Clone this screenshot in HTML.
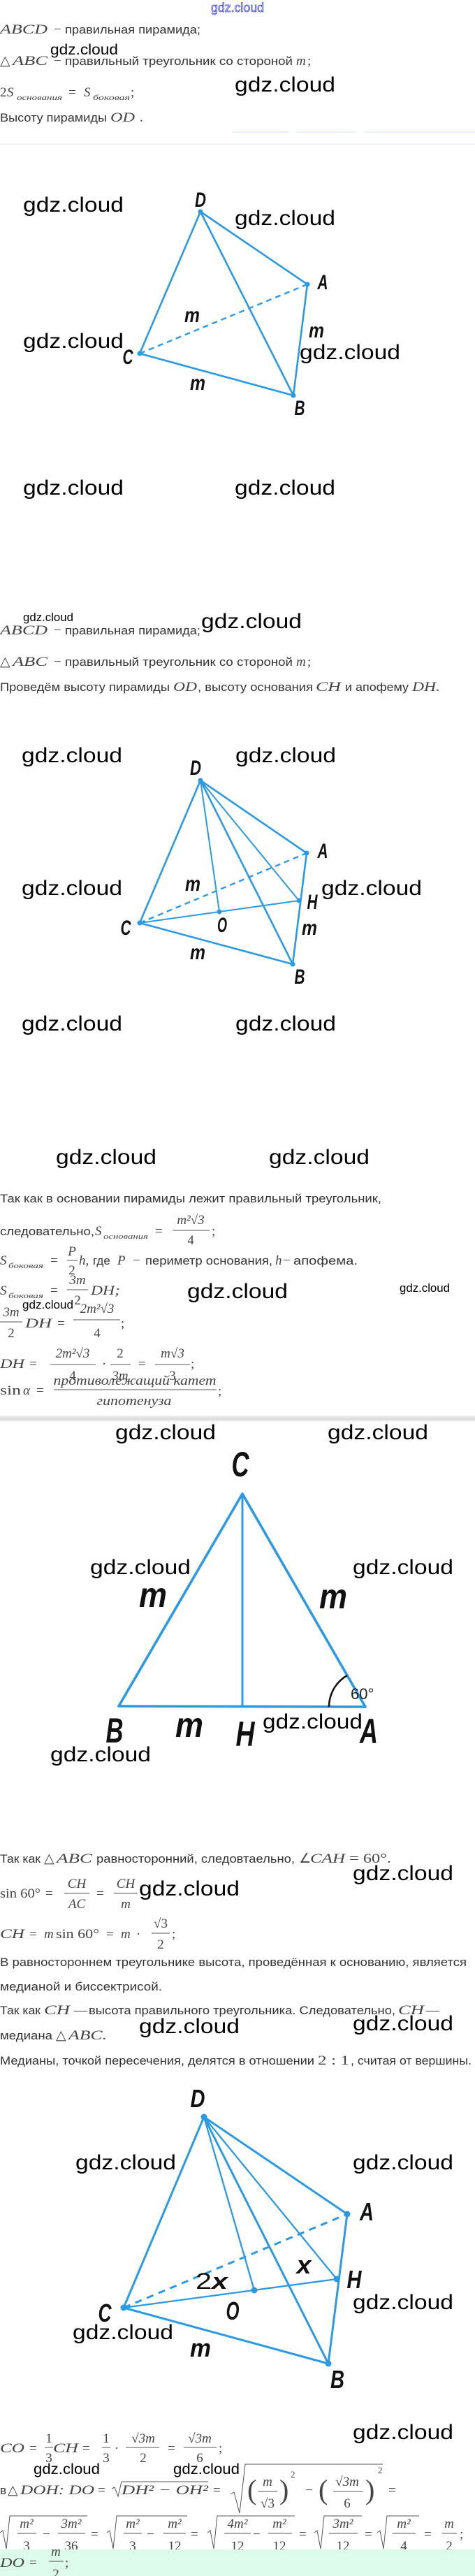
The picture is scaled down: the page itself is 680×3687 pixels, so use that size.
<!DOCTYPE html>
<html><head><meta charset="utf-8"><style>
html,body{margin:0;padding:0;background:#fff;}
svg{display:block}
.t{font:17px "Liberation Sans",sans-serif;fill:#333}
.m{font:italic 19px "Liberation Serif",serif;fill:#444}
.n{font:19px "Liberation Serif",serif;fill:#444}
.s{font:italic 11px "Liberation Serif",serif;fill:#444}
.w{font:30px "Liberation Sans",sans-serif;fill:#000}
.w2{font:21px "Liberation Sans",sans-serif;fill:#000}
.w3{font:17px "Liberation Sans",sans-serif;fill:#000}
.lb{font:italic bold 30px "Liberation Sans",sans-serif;fill:#111}
.lb2{font:italic bold 50px "Liberation Sans",sans-serif;fill:#111}
.lb3{font:italic bold 36px "Liberation Sans",sans-serif;fill:#111}
.e{stroke:#2b9ae3;stroke-width:2.6;fill:none;stroke-linecap:round}
.e2{stroke:#2b9ae3;stroke-width:2;fill:none}
.d{stroke:#2b9ae3;stroke-width:2.4;stroke-dasharray:8 6;fill:none}
.dot{fill:#2b9ae3}
.fb{stroke:#555;stroke-width:1}
.sq{stroke:#555;stroke-width:1;fill:none}
</style></head><body>
<svg width="680" height="3687" viewBox="0 0 680 3687" xmlns="http://www.w3.org/2000/svg">
<rect width="680" height="3687" fill="#fff"/>

<!-- ===== Section 1 ===== -->
<text x="302" y="17" font-family="Liberation Sans, sans-serif" font-size="18" fill="#fff" stroke="#3b45d0" stroke-width="0.8" textLength="76" lengthAdjust="spacingAndGlyphs">gdz.cloud</text>

<text class="m" x="0" y="48" textLength="68" lengthAdjust="spacingAndGlyphs">ABCD</text>
<text class="n" x="77" y="48">−</text>
<text class="t" x="93" y="48" textLength="194" lengthAdjust="spacingAndGlyphs">правильная пирамида;</text>
<text class="w2" x="72" y="78" textLength="97" lengthAdjust="spacingAndGlyphs">gdz.cloud</text>

<text class="n" x="0" y="93">△</text><text class="m" x="18" y="93" textLength="50" lengthAdjust="spacingAndGlyphs">ABC</text>
<text class="n" x="77" y="93">−</text>
<text class="t" x="93" y="93" textLength="326" lengthAdjust="spacingAndGlyphs">правильный треугольник со стороной</text>
<text class="m" x="424" y="93">m</text><text class="n" x="440" y="93">;</text>

<text class="n" x="0" y="138">2</text><text class="m" x="10" y="138">S</text>
<text class="s" x="24" y="143" textLength="65" lengthAdjust="spacingAndGlyphs">основания</text>
<text class="n" x="98" y="138">=</text>
<text class="m" x="120" y="138">S</text>
<text class="s" x="133" y="143" textLength="53" lengthAdjust="spacingAndGlyphs">боковая</text>
<text class="n" x="187" y="138">;</text>
<text class="w" x="336" y="131" textLength="144" lengthAdjust="spacingAndGlyphs">gdz.cloud</text>

<text class="t" x="0" y="174" textLength="153" lengthAdjust="spacingAndGlyphs">Высоту пирамиды</text>
<text class="m" x="158" y="174" textLength="35" lengthAdjust="spacingAndGlyphs">OD</text>
<text class="n" x="200" y="174">.</text>

<rect x="332" y="188" width="83" height="2" fill="#e6f2fb"/>
<rect x="425" y="188" width="85" height="2" fill="#e6f2fb"/>
<rect x="522" y="188" width="158" height="2" fill="#e6f2fb"/>
<rect x="0" y="206" width="680" height="1.5" fill="#f0f0f0"/>

<!-- Pyramid 1 -->
<line class="e" x1="287" y1="303" x2="200" y2="506"/>
<line class="e" x1="287" y1="303" x2="440" y2="407"/>
<line class="e" x1="287" y1="303" x2="420" y2="566"/>
<line class="e" x1="200" y1="506" x2="420" y2="566"/>
<line class="e" x1="440" y1="407" x2="420" y2="566"/>
<line class="d" x1="200" y1="506" x2="440" y2="407"/>
<circle class="dot" cx="287" cy="303" r="3.5"/><circle class="dot" cx="440" cy="407" r="3.5"/>
<circle class="dot" cx="200" cy="506" r="3.5"/><circle class="dot" cx="420" cy="566" r="3.5"/>
<text class="lb" x="287" y="296" text-anchor="middle" textLength="16" lengthAdjust="spacingAndGlyphs">D</text>
<text class="lb" x="462" y="414" text-anchor="middle" textLength="15" lengthAdjust="spacingAndGlyphs">A</text>
<text class="lb" x="183" y="521" text-anchor="middle" textLength="15" lengthAdjust="spacingAndGlyphs">C</text>
<text class="lb" x="429" y="594" text-anchor="middle" textLength="15" lengthAdjust="spacingAndGlyphs">B</text>
<text class="lb" x="275" y="461" text-anchor="middle" textLength="22" lengthAdjust="spacingAndGlyphs">m</text>
<text class="lb" x="453" y="483" text-anchor="middle" textLength="22" lengthAdjust="spacingAndGlyphs">m</text>
<text class="lb" x="283" y="558" text-anchor="middle" textLength="22" lengthAdjust="spacingAndGlyphs">m</text>
<text class="w" x="33" y="303" textLength="144" lengthAdjust="spacingAndGlyphs">gdz.cloud</text>
<text class="w" x="336" y="322" textLength="144" lengthAdjust="spacingAndGlyphs">gdz.cloud</text>
<text class="w" x="33" y="498" textLength="144" lengthAdjust="spacingAndGlyphs">gdz.cloud</text>
<text class="w" x="429" y="514" textLength="144" lengthAdjust="spacingAndGlyphs">gdz.cloud</text>
<text class="w" x="33" y="708" textLength="144" lengthAdjust="spacingAndGlyphs">gdz.cloud</text>
<text class="w" x="336" y="708" textLength="144" lengthAdjust="spacingAndGlyphs">gdz.cloud</text>

<!-- ===== Section 2 ===== -->
<text class="w3" x="33" y="889" textLength="72" lengthAdjust="spacingAndGlyphs">gdz.cloud</text>
<text class="m" x="0" y="908" textLength="68" lengthAdjust="spacingAndGlyphs">ABCD</text>
<text class="n" x="77" y="908">−</text>
<text class="t" x="93" y="908" textLength="194" lengthAdjust="spacingAndGlyphs">правильная пирамида;</text>
<text class="w" x="288" y="899" textLength="144" lengthAdjust="spacingAndGlyphs">gdz.cloud</text>

<text class="n" x="0" y="953">△</text><text class="m" x="18" y="953" textLength="50" lengthAdjust="spacingAndGlyphs">ABC</text>
<text class="n" x="77" y="953">−</text>
<text class="t" x="93" y="953" textLength="326" lengthAdjust="spacingAndGlyphs">правильный треугольник со стороной</text>
<text class="m" x="424" y="953">m</text><text class="n" x="440" y="953">;</text>

<text class="t" x="0" y="989" textLength="243" lengthAdjust="spacingAndGlyphs">Проведём высоту пирамиды</text>
<text class="m" x="248" y="989" textLength="34" lengthAdjust="spacingAndGlyphs">OD</text>
<text class="t" x="283" y="989" textLength="165" lengthAdjust="spacingAndGlyphs">, высоту основания</text>
<text class="m" x="452" y="989" textLength="36" lengthAdjust="spacingAndGlyphs">CH</text>
<text class="t" x="494" y="989" textLength="91" lengthAdjust="spacingAndGlyphs">и апофему</text>
<text class="m" x="590" y="989" textLength="40" lengthAdjust="spacingAndGlyphs">DH.</text>

<!-- Pyramid 2 -->
<line class="e" x1="287" y1="1117" x2="200" y2="1321"/>
<line class="e" x1="287" y1="1117" x2="439" y2="1221"/>
<line class="e" x1="287" y1="1117" x2="419" y2="1380"/>
<line class="e2" x1="287" y1="1117" x2="314" y2="1305"/>
<line class="e2" x1="287" y1="1117" x2="428" y2="1289"/>
<line class="e" x1="200" y1="1321" x2="419" y2="1380"/>
<line class="e" x1="439" y1="1221" x2="419" y2="1380"/>
<line class="e2" x1="200" y1="1321" x2="428" y2="1289"/>
<line class="d" x1="200" y1="1321" x2="439" y2="1221"/>
<circle class="dot" cx="287" cy="1117" r="3.5"/><circle class="dot" cx="439" cy="1221" r="3.5"/>
<circle class="dot" cx="428" cy="1289" r="3.5"/><circle class="dot" cx="314" cy="1305" r="3.5"/>
<circle class="dot" cx="200" cy="1321" r="3.5"/><circle class="dot" cx="419" cy="1380" r="3.5"/>
<text class="lb" x="280" y="1109" text-anchor="middle" textLength="16" lengthAdjust="spacingAndGlyphs">D</text>
<text class="lb" x="462" y="1228" text-anchor="middle" textLength="15" lengthAdjust="spacingAndGlyphs">A</text>
<text class="lb" x="447" y="1301" text-anchor="middle" textLength="15" lengthAdjust="spacingAndGlyphs">H</text>
<text class="lb" x="318" y="1334" text-anchor="middle" textLength="14" lengthAdjust="spacingAndGlyphs">O</text>
<text class="lb" x="180" y="1338" text-anchor="middle" textLength="15" lengthAdjust="spacingAndGlyphs">C</text>
<text class="lb" x="429" y="1408" text-anchor="middle" textLength="15" lengthAdjust="spacingAndGlyphs">B</text>
<text class="lb" x="276" y="1275" text-anchor="middle" textLength="22" lengthAdjust="spacingAndGlyphs">m</text>
<text class="lb" x="443" y="1338" text-anchor="middle" textLength="22" lengthAdjust="spacingAndGlyphs">m</text>
<text class="lb" x="283" y="1373" text-anchor="middle" textLength="22" lengthAdjust="spacingAndGlyphs">m</text>
<text class="w" x="31" y="1091" textLength="144" lengthAdjust="spacingAndGlyphs">gdz.cloud</text>
<text class="w" x="337" y="1091" textLength="144" lengthAdjust="spacingAndGlyphs">gdz.cloud</text>
<text class="w" x="31" y="1281" textLength="144" lengthAdjust="spacingAndGlyphs">gdz.cloud</text>
<text class="w" x="460" y="1281" textLength="144" lengthAdjust="spacingAndGlyphs">gdz.cloud</text>
<text class="w" x="31" y="1475" textLength="144" lengthAdjust="spacingAndGlyphs">gdz.cloud</text>
<text class="w" x="337" y="1475" textLength="144" lengthAdjust="spacingAndGlyphs">gdz.cloud</text>
<text class="w" x="80" y="1666" textLength="144" lengthAdjust="spacingAndGlyphs">gdz.cloud</text>
<text class="w" x="385" y="1666" textLength="144" lengthAdjust="spacingAndGlyphs">gdz.cloud</text>

<!-- ===== Section 3 ===== -->
<text class="t" x="0" y="1721" textLength="546" lengthAdjust="spacingAndGlyphs">Так как в основании пирамиды лежит правильный треугольник,</text>

<text class="t" x="0" y="1768" textLength="135" lengthAdjust="spacingAndGlyphs">следовательно,</text>
<text class="m" x="136" y="1768">S</text>
<text class="s" x="148" y="1773" textLength="64" lengthAdjust="spacingAndGlyphs">основания</text>
<text class="n" x="222" y="1768">=</text>
<text class="m" x="273" y="1752" text-anchor="middle">m²√3</text>
<line class="fb" x1="247" y1="1761" x2="300" y2="1761"/>
<text class="n" x="273" y="1781" text-anchor="middle">4</text>
<text class="n" x="303" y="1768">;</text>

<text class="m" x="0" y="1810">S</text>
<text class="s" x="12" y="1815" textLength="50" lengthAdjust="spacingAndGlyphs">боковая</text>
<text class="n" x="72" y="1810">=</text>
<text class="m" x="103" y="1797" text-anchor="middle">P</text>
<line class="fb" x1="96" y1="1804" x2="111" y2="1804"/>
<text class="n" x="103" y="1824" text-anchor="middle">2</text>
<text class="m" x="113" y="1810">h,</text>
<text class="t" x="133" y="1810">где</text>
<text class="m" x="168" y="1810">P</text>
<text class="n" x="190" y="1810">−</text>
<text class="t" x="208" y="1810" textLength="182" lengthAdjust="spacingAndGlyphs">периметр основания,</text>
<text class="m" x="394" y="1810">h</text>
<text class="n" x="405" y="1810">−</text>
<text class="t" x="420" y="1810" textLength="92" lengthAdjust="spacingAndGlyphs">апофема.</text>

<text class="m" x="0" y="1853">S</text>
<text class="s" x="12" y="1858" textLength="50" lengthAdjust="spacingAndGlyphs">боковая</text>
<text class="n" x="72" y="1853">=</text>
<text class="m" x="111" y="1838" text-anchor="middle">3m</text>
<line class="fb" x1="96" y1="1846" x2="126" y2="1846"/>
<text class="n" x="111" y="1867" text-anchor="middle">2</text>
<text class="m" x="130" y="1853" textLength="42" lengthAdjust="spacingAndGlyphs">DH;</text>
<text class="w" x="268" y="1858" textLength="144" lengthAdjust="spacingAndGlyphs">gdz.cloud</text>
<text class="w3" x="572" y="1849" textLength="72" lengthAdjust="spacingAndGlyphs">gdz.cloud</text>

<text class="m" x="16" y="1884" text-anchor="middle">3m</text>
<line class="fb" x1="0" y1="1892" x2="32" y2="1892"/>
<text class="n" x="16" y="1914" text-anchor="middle">2</text>
<text class="w3" x="32" y="1873" textLength="73" lengthAdjust="spacingAndGlyphs">gdz.cloud</text>
<text class="m" x="36" y="1900" textLength="38" lengthAdjust="spacingAndGlyphs">DH</text>
<text class="n" x="82" y="1900">=</text>
<text class="m" x="139" y="1879" text-anchor="middle">2m²√3</text>
<line class="fb" x1="105" y1="1889" x2="172" y2="1889"/>
<text class="n" x="139" y="1914" text-anchor="middle">4</text>
<text class="n" x="173" y="1900">;</text>

<text class="m" x="0" y="1958" textLength="35" lengthAdjust="spacingAndGlyphs">DH</text>
<text class="n" x="42" y="1958">=</text>
<text class="m" x="104" y="1943" text-anchor="middle">2m²√3</text>
<line class="fb" x1="72" y1="1953" x2="137" y2="1953"/>
<text class="n" x="104" y="1975" text-anchor="middle">4</text>
<text class="n" x="146" y="1958">·</text>
<text class="n" x="172" y="1943" text-anchor="middle">2</text>
<line class="fb" x1="158" y1="1953" x2="187" y2="1953"/>
<text class="m" x="172" y="1975" text-anchor="middle">3m</text>
<text class="n" x="198" y="1958">=</text>
<text class="m" x="247" y="1943" text-anchor="middle">m√3</text>
<line class="fb" x1="222" y1="1953" x2="272" y2="1953"/>
<text class="n" x="247" y="1975" text-anchor="middle">3</text>
<text class="n" x="273" y="1958">;</text>

<text class="n" x="0" y="1996" textLength="30" lengthAdjust="spacingAndGlyphs">sin</text>
<text class="m" x="33" y="1996">α</text>
<text class="n" x="52" y="1996">=</text>
<text class="m" x="193" y="1982" text-anchor="middle" textLength="233" lengthAdjust="spacingAndGlyphs">противолежащий катет</text>
<line class="fb" x1="77" y1="1989" x2="310" y2="1989"/>
<text class="m" x="192" y="2011" text-anchor="middle" textLength="107" lengthAdjust="spacingAndGlyphs">гипотенуза</text>
<text class="n" x="312" y="1997">;</text>

<defs><linearGradient id="sh" x1="0" y1="0" x2="0" y2="1"><stop offset="0" stop-color="#f4f4f4"/><stop offset="0.5" stop-color="#d9d9d9"/><stop offset="1" stop-color="#ffffff"/></linearGradient></defs>
<rect x="0" y="2026" width="680" height="10" fill="url(#sh)"/>

<!-- Triangle -->
<text class="w" x="165" y="2060" textLength="144" lengthAdjust="spacingAndGlyphs">gdz.cloud</text>
<text class="w" x="469" y="2060" textLength="144" lengthAdjust="spacingAndGlyphs">gdz.cloud</text>
<line stroke="#2b9ae3" stroke-width="3.6" stroke-linecap="round" x1="347" y1="2138" x2="170" y2="2442"/>
<line stroke="#2b9ae3" stroke-width="3.6" stroke-linecap="round" x1="347" y1="2138" x2="523" y2="2443"/>
<line stroke="#2b9ae3" stroke-width="3.6" stroke-linecap="round" x1="170" y1="2442" x2="523" y2="2443"/>
<line stroke="#2b9ae3" stroke-width="3" x1="347" y1="2138" x2="347" y2="2443"/>
<path d="M471,2443 A52,52 0 0 1 497,2398" stroke="#111" stroke-width="2.5" fill="none"/>
<text x="502" y="2432" font-family="Liberation Sans, sans-serif" font-size="22" fill="#222">60°</text>
<text class="lb2" x="344" y="2113" text-anchor="middle" textLength="25" lengthAdjust="spacingAndGlyphs">C</text>
<text class="lb2" x="164" y="2494" text-anchor="middle" textLength="25" lengthAdjust="spacingAndGlyphs">B</text>
<text class="lb2" x="351" y="2499" text-anchor="middle" textLength="27" lengthAdjust="spacingAndGlyphs">H</text>
<text class="lb2" x="528" y="2495" text-anchor="middle" textLength="26" lengthAdjust="spacingAndGlyphs">A</text>
<text class="lb2" x="219" y="2300" text-anchor="middle" textLength="40" lengthAdjust="spacingAndGlyphs">m</text>
<text class="lb2" x="477" y="2302" text-anchor="middle" textLength="40" lengthAdjust="spacingAndGlyphs">m</text>
<text class="lb2" x="271" y="2486" text-anchor="middle" textLength="40" lengthAdjust="spacingAndGlyphs">m</text>
<text class="w" x="129" y="2253" textLength="144" lengthAdjust="spacingAndGlyphs">gdz.cloud</text>
<text class="w" x="505" y="2253" textLength="144" lengthAdjust="spacingAndGlyphs">gdz.cloud</text>
<text class="w" x="376" y="2474" textLength="143" lengthAdjust="spacingAndGlyphs">gdz.cloud</text>
<text class="w" x="72" y="2521" textLength="144" lengthAdjust="spacingAndGlyphs">gdz.cloud</text>

<!-- ===== Section 5 ===== -->
<text class="t" x="0" y="2666" textLength="58" lengthAdjust="spacingAndGlyphs">Так как</text>
<text class="n" x="63" y="2666">△</text><text class="m" x="81" y="2666" textLength="51" lengthAdjust="spacingAndGlyphs">ABC</text>
<text class="t" x="138" y="2666" textLength="284" lengthAdjust="spacingAndGlyphs">равносторонний, следовтаельно,</text>
<text class="n" x="428" y="2666">∠</text><text class="m" x="444" y="2666" textLength="50" lengthAdjust="spacingAndGlyphs">CAH</text>
<text class="n" x="500" y="2666" textLength="60" lengthAdjust="spacingAndGlyphs">= 60°.</text>

<text class="n" x="0" y="2716" textLength="58" lengthAdjust="spacingAndGlyphs">sin 60°</text>
<text class="n" x="65" y="2716">=</text>
<text class="m" x="110" y="2702" text-anchor="middle">CH</text>
<line class="fb" x1="92" y1="2710" x2="128" y2="2710"/>
<text class="m" x="110" y="2731" text-anchor="middle">AC</text>
<text class="n" x="138" y="2716">=</text>
<text class="m" x="180" y="2702" text-anchor="middle">CH</text>
<line class="fb" x1="163" y1="2710" x2="197" y2="2710"/>
<text class="m" x="180" y="2731" text-anchor="middle">m</text>
<text class="w" x="199" y="2713" textLength="144" lengthAdjust="spacingAndGlyphs">gdz.cloud</text>
<text class="w" x="505" y="2691" textLength="144" lengthAdjust="spacingAndGlyphs">gdz.cloud</text>

<text class="m" x="0" y="2774" textLength="35" lengthAdjust="spacingAndGlyphs">CH</text>
<text class="n" x="42" y="2774">=</text>
<text class="m" x="63" y="2774">m</text><text class="n" x="80" y="2774" textLength="62" lengthAdjust="spacingAndGlyphs">sin 60°</text>
<text class="n" x="152" y="2774">=</text>
<text class="m" x="173" y="2774">m</text>
<text class="n" x="195" y="2774">·</text>
<text class="n" x="230" y="2759" text-anchor="middle">√3</text>
<line class="fb" x1="217" y1="2767" x2="243" y2="2767"/>
<text class="n" x="230" y="2789" text-anchor="middle">2</text>
<text class="n" x="246" y="2774">;</text>

<text class="t" x="0" y="2814" textLength="668" lengthAdjust="spacingAndGlyphs">В равностороннем треугольнике высота, проведённая к основанию, является</text>
<text class="t" x="0" y="2849" textLength="232" lengthAdjust="spacingAndGlyphs">медианой и биссектрисой.</text>
<text class="t" x="0" y="2883" textLength="58" lengthAdjust="spacingAndGlyphs">Так как</text>
<text class="m" x="63" y="2883" textLength="37" lengthAdjust="spacingAndGlyphs">CH</text>
<text class="n" x="106" y="2883">—</text>
<text class="t" x="127" y="2883" textLength="439" lengthAdjust="spacingAndGlyphs">высота правильного треугольника. Следовательно,</text>
<text class="m" x="570" y="2883" textLength="37" lengthAdjust="spacingAndGlyphs">CH</text>
<text class="n" x="610" y="2883">—</text>
<text class="t" x="0" y="2919" textLength="75" lengthAdjust="spacingAndGlyphs">медиана</text>
<text class="n" x="80" y="2919">△</text><text class="m" x="98" y="2919" textLength="55" lengthAdjust="spacingAndGlyphs">ABC.</text>
<text class="w" x="199" y="2910" textLength="144" lengthAdjust="spacingAndGlyphs">gdz.cloud</text>
<text class="w" x="505" y="2906" textLength="144" lengthAdjust="spacingAndGlyphs">gdz.cloud</text>
<text class="t" x="0" y="2955" textLength="450" lengthAdjust="spacingAndGlyphs">Медианы, точкой пересечения, делятся в отношении</text>
<text class="n" x="455" y="2955" textLength="45" lengthAdjust="spacingAndGlyphs">2 : 1</text>
<text class="t" x="502" y="2955" textLength="173" lengthAdjust="spacingAndGlyphs">, считая от вершины.</text>

<!-- Pyramid 3 -->
<line stroke="#2b9ae3" stroke-width="3" stroke-linecap="round" x1="292" y1="3030" x2="177" y2="3303"/>
<line stroke="#2b9ae3" stroke-width="3" stroke-linecap="round" x1="292" y1="3030" x2="497" y2="3169"/>
<line stroke="#2b9ae3" stroke-width="3" stroke-linecap="round" x1="292" y1="3030" x2="470" y2="3383"/>
<line stroke="#2b9ae3" stroke-width="2.3" x1="292" y1="3030" x2="364" y2="3278"/>
<line stroke="#2b9ae3" stroke-width="2.3" x1="292" y1="3030" x2="482" y2="3262"/>
<line stroke="#2b9ae3" stroke-width="3" stroke-linecap="round" x1="177" y1="3303" x2="470" y2="3383"/>
<line stroke="#2b9ae3" stroke-width="3" stroke-linecap="round" x1="497" y1="3169" x2="470" y2="3383"/>
<line stroke="#2b9ae3" stroke-width="2.3" x1="177" y1="3303" x2="482" y2="3262"/>
<line stroke="#2b9ae3" stroke-width="3" stroke-dasharray="10 8" x1="177" y1="3303" x2="497" y2="3169"/>
<circle class="dot" cx="292" cy="3030" r="4.5"/><circle class="dot" cx="497" cy="3169" r="4.5"/>
<circle class="dot" cx="482" cy="3262" r="4.5"/><circle class="dot" cx="364" cy="3278" r="4.5"/>
<circle class="dot" cx="177" cy="3303" r="4.5"/><circle class="dot" cx="470" cy="3383" r="4.5"/>
<text class="lb3" x="283" y="3016" text-anchor="middle" textLength="21" lengthAdjust="spacingAndGlyphs">D</text>
<text class="lb3" x="525" y="3178" text-anchor="middle" textLength="20" lengthAdjust="spacingAndGlyphs">A</text>
<text class="lb3" x="507" y="3275" text-anchor="middle" textLength="21" lengthAdjust="spacingAndGlyphs">H</text>
<text class="lb3" x="333" y="3320" text-anchor="middle" textLength="19" lengthAdjust="spacingAndGlyphs">O</text>
<text class="lb3" x="150" y="3323" text-anchor="middle" textLength="19" lengthAdjust="spacingAndGlyphs">C</text>
<text class="lb3" x="483" y="3418" text-anchor="middle" textLength="20" lengthAdjust="spacingAndGlyphs">B</text>
<text class="lb3" x="287" y="3373" text-anchor="middle" textLength="30" lengthAdjust="spacingAndGlyphs">m</text>
<text x="303" y="3276" text-anchor="middle" font-family="Liberation Sans, sans-serif" font-size="32" fill="#111" textLength="46" lengthAdjust="spacingAndGlyphs">2<tspan font-style="italic" font-weight="bold">x</tspan></text>
<text class="lb3" x="435" y="3254" text-anchor="middle" textLength="21" lengthAdjust="spacingAndGlyphs">x</text>
<text class="w" x="108" y="3105" textLength="144" lengthAdjust="spacingAndGlyphs">gdz.cloud</text>
<text class="w" x="505" y="3105" textLength="144" lengthAdjust="spacingAndGlyphs">gdz.cloud</text>
<text class="w" x="505" y="3305" textLength="144" lengthAdjust="spacingAndGlyphs">gdz.cloud</text>
<text class="w" x="104" y="3348" textLength="144" lengthAdjust="spacingAndGlyphs">gdz.cloud</text>
<text class="w" x="505" y="3491" textLength="144" lengthAdjust="spacingAndGlyphs">gdz.cloud</text>

<!-- ===== Bottom formulas ===== -->
<text class="m" x="0" y="3510" textLength="35" lengthAdjust="spacingAndGlyphs">CO</text>
<text class="n" x="42" y="3510">=</text>
<text class="n" x="70" y="3496" text-anchor="middle">1</text>
<line class="fb" x1="64" y1="3503" x2="76" y2="3503"/>
<text class="n" x="70" y="3524" text-anchor="middle">3</text>
<text class="m" x="76" y="3510" textLength="36" lengthAdjust="spacingAndGlyphs">CH</text>
<text class="n" x="118" y="3510">=</text>
<text class="n" x="152" y="3496" text-anchor="middle">1</text>
<line class="fb" x1="146" y1="3503" x2="158" y2="3503"/>
<text class="n" x="152" y="3524" text-anchor="middle">3</text>
<text class="n" x="164" y="3510">·</text>
<text class="m" x="205" y="3496" text-anchor="middle">√3m</text>
<line class="fb" x1="180" y1="3503" x2="228" y2="3503"/>
<text class="n" x="205" y="3524" text-anchor="middle">2</text>
<text class="n" x="240" y="3510">=</text>
<text class="m" x="286" y="3496" text-anchor="middle">√3m</text>
<line class="fb" x1="263" y1="3503" x2="310" y2="3503"/>
<text class="n" x="286" y="3524" text-anchor="middle">6</text>
<text class="n" x="313" y="3510">;</text>
<text class="w2" x="48" y="3541" textLength="95" lengthAdjust="spacingAndGlyphs">gdz.cloud</text>
<text class="w2" x="248" y="3541" textLength="95" lengthAdjust="spacingAndGlyphs">gdz.cloud</text>

<text class="t" x="0" y="3570">в</text>
<text class="n" x="11" y="3570">△</text>
<text class="m" x="29" y="3570" textLength="106" lengthAdjust="spacingAndGlyphs">DOH: DO</text>
<text class="n" x="140" y="3570">=</text>
<path class="sq" d="M160,3562 L164,3560 L169,3573 L174,3552 L298,3552"/>
<text class="m" x="174" y="3570" textLength="124" lengthAdjust="spacingAndGlyphs">DH² − OH²</text>
<text class="n" x="305" y="3570">=</text>
<path class="sq" d="M330,3570 L335,3567 L343,3597 L351,3527 L548,3527"/>
<text class="n" x="354" y="3577" font-size="40" style="font-size:40px">(</text>
<text class="m" x="383" y="3558" text-anchor="middle">m</text>
<line class="fb" x1="370" y1="3566" x2="397" y2="3566"/>
<text class="n" x="383" y="3589" text-anchor="middle">√3</text>
<text class="n" x="400" y="3577" style="font-size:40px">)</text>
<text class="n" x="416" y="3546" style="font-size:13px">2</text>
<text class="n" x="437" y="3570">−</text>
<text class="n" x="456" y="3577" style="font-size:40px">(</text>
<text class="m" x="497" y="3558" text-anchor="middle">√3m</text>
<line class="fb" x1="477" y1="3566" x2="520" y2="3566"/>
<text class="n" x="497" y="3589" text-anchor="middle">6</text>
<text class="n" x="523" y="3577" style="font-size:40px">)</text>
<text class="n" x="541" y="3540" style="font-size:13px">2</text>
<text class="n" x="556" y="3570">=</text>

<!-- sqrt chain -->
<path class="sq" d="M0,3625 L4,3622 L9,3648 L14,3601 L125,3601"/>
<text class="m" x="38" y="3618" text-anchor="middle">m²</text><line class="fb" x1="25" y1="3626" x2="52" y2="3626"/><text class="n" x="38" y="3650" text-anchor="middle">3</text>
<text class="n" x="61" y="3633">−</text>
<text class="m" x="102" y="3618" text-anchor="middle">3m²</text><line class="fb" x1="83" y1="3626" x2="122" y2="3626"/><text class="n" x="102" y="3650" text-anchor="middle">36</text>
<text class="n" x="130" y="3633">=</text>
<path class="sq" d="M153,3625 L157,3622 L162,3648 L167,3601 L268,3601"/>
<text class="m" x="190" y="3618" text-anchor="middle">m²</text><line class="fb" x1="177" y1="3626" x2="203" y2="3626"/><text class="n" x="190" y="3650" text-anchor="middle">3</text>
<text class="n" x="210" y="3633">−</text>
<text class="m" x="250" y="3618" text-anchor="middle">m²</text><line class="fb" x1="234" y1="3626" x2="266" y2="3626"/><text class="n" x="250" y="3650" text-anchor="middle">12</text>
<text class="n" x="273" y="3633">=</text>
<path class="sq" d="M297,3625 L301,3622 L306,3648 L311,3601 L422,3601"/>
<text class="m" x="340" y="3618" text-anchor="middle">4m²</text><line class="fb" x1="321" y1="3626" x2="359" y2="3626"/><text class="n" x="340" y="3650" text-anchor="middle">12</text>
<text class="n" x="362" y="3633">−</text>
<text class="m" x="400" y="3618" text-anchor="middle">m²</text><line class="fb" x1="384" y1="3626" x2="418" y2="3626"/><text class="n" x="400" y="3650" text-anchor="middle">12</text>
<text class="n" x="428" y="3633">=</text>
<path class="sq" d="M450,3625 L454,3622 L459,3648 L464,3601 L518,3601"/>
<text class="m" x="491" y="3618" text-anchor="middle">3m²</text><line class="fb" x1="471" y1="3626" x2="512" y2="3626"/><text class="n" x="491" y="3650" text-anchor="middle">12</text>
<text class="n" x="522" y="3633">=</text>
<path class="sq" d="M540,3625 L544,3622 L549,3648 L554,3601 L600,3601"/>
<text class="m" x="578" y="3618" text-anchor="middle">m²</text><line class="fb" x1="562" y1="3626" x2="595" y2="3626"/><text class="n" x="578" y="3650" text-anchor="middle">4</text>
<text class="n" x="607" y="3633">=</text>
<text class="m" x="643" y="3618" text-anchor="middle">m</text><line class="fb" x1="633" y1="3626" x2="654" y2="3626"/><text class="n" x="643" y="3650" text-anchor="middle">2</text>
<text class="n" x="658" y="3633">;</text>

<rect x="0" y="3649" width="680" height="38" fill="#dcfbea"/>
<text class="m" x="0" y="3674" textLength="35" lengthAdjust="spacingAndGlyphs">DO</text>
<text class="n" x="42" y="3674">=</text>
<text class="m" x="80" y="3658" text-anchor="middle">m</text>
<line class="fb" x1="70" y1="3666" x2="91" y2="3666"/>
<text class="n" x="80" y="3690" text-anchor="middle">2</text>
<text class="n" x="93" y="3674">;</text>
</svg>
</body></html>
